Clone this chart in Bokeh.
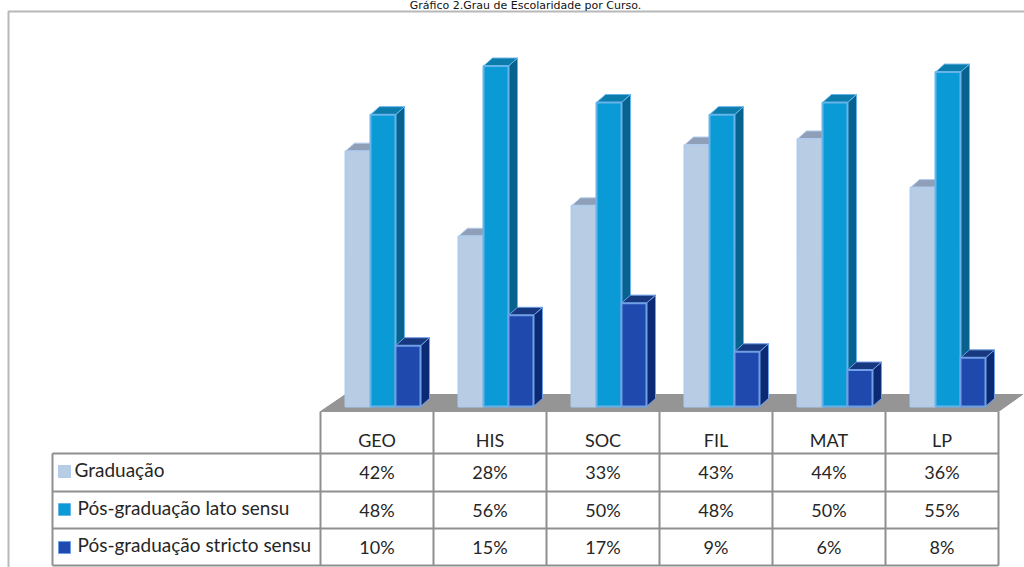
from bokeh.plotting import figure
from bokeh.embed import file_html
from bokeh.resources import INLINE
from bokeh.models import ColumnDataSource
from bokeh.core.properties import value

title = "Gráfico 2.Grau de Escolaridade por Curso."
categories = ["GEO", "HIS", "SOC", "FIL", "MAT", "LP"]
series_names = ["Graduação", "Pós-graduação lato sensu", "Pós-graduação stricto sensu"]
graduacao = [42, 28, 33, 43, 44, 36]
lato_sensu = [48, 56, 50, 48, 50, 55]
stricto_sensu = [10, 15, 17, 9, 6, 8]
series = [graduacao, lato_sensu, stricto_sensu]

front = ["#b8cce4", "#0a9bd6", "#1f49ad"]
side = ["#8ea4c0", "#07628e", "#0c2a73"]
top = ["#8f9fb8", "#0b7cab", "#17377f"]
edge = ["#b0cbec", "#66b4ea", "#6f9fe6"]

W, H = 1024, 567
PX_X, PX_Y = 113.0, 6.08      # pixels per category, pixels per percent
X0, Y0 = 320.0, 406.0         # pixel position of first category's left edge and of 0 %

def dx(px):
    return (px - X0) / PX_X

def dy(py):
    return (Y0 - py) / PX_Y

p = figure(width=W, height=H, x_range=(dx(0), dx(W)), y_range=(dy(H), dy(0)),
           toolbar_location=None, output_backend="svg", min_border=0,
           outline_line_color=None, background_fill_color="white", border_fill_color="white")
p.axis.visible = False
p.grid.visible = False

GRID = "#8f8f8f"

# outer frame (open on the right and at the bottom)
p.line([dx(8), dx(8), dx(1024)], [dy(567), dy(11), dy(11)], line_color="#b8b8b8", line_width=2)

# floor
p.patch([dx(320), dx(345), dx(1022), dx(998)], [dy(411), dy(394), dy(394), dy(411)],
        fill_color="#959595", line_color="#959595")

# 3-D bars
bar_w = 25 / PX_X
off = 25 / PX_X
depth_x = 9 / PX_X
depth_y = 8 / PX_Y
for s, vals in enumerate(series):
    left = [i + off + s * bar_w for i in range(len(vals))]
    right = [l + bar_w for l in left]
    side_xs = [[r, r + depth_x, r + depth_x, r] for r in right]
    side_ys = [[0, depth_y, v + depth_y, v] for v in vals]
    top_xs = [[l, l + depth_x, r + depth_x, r] for l, r in zip(left, right)]
    top_ys = [[v, v + depth_y, v + depth_y, v] for v in vals]
    p.patches(side_xs, side_ys, fill_color=side[s], line_color=edge[s], line_width=1)
    p.patches(top_xs, top_ys, fill_color=top[s], line_color=edge[s], line_width=1)
    src = ColumnDataSource(dict(left=left, right=right, top=vals, bottom=[0] * len(vals)))
    p.quad(left="left", right="right", top="top", bottom="bottom", source=src,
           fill_color=front[s], line_color=edge[s], line_width=2)

# data table lines
row_y = [453, 491, 528, 565]
n = len(categories)
for py in row_y:
    p.line([dx(52), dx(998)], [dy(py), dy(py)], line_color=GRID, line_width=2)
p.line([dx(52), dx(52)], [dy(453), dy(565)], line_color=GRID, line_width=2)
for i in range(n + 1):
    p.line([i, i], [dy(411), dy(565)], line_color=GRID, line_width=2)

FONT = value("Lato")
TXT = "#262626"
p.text([i + 0.5 for i in range(n)], [dy(439)] * n, text=categories, text_font=FONT,
       text_font_size="18px", text_color=TXT, text_align="center", text_baseline="middle")

row_c = [471, 509, 546]
name_c = [469, 507, 544]
key_top = [465, 503, 541]
for s, vals in enumerate(series):
    p.text([i + 0.5 for i in range(n)], [dy(row_c[s])] * n, text=[f"{v}%" for v in vals],
           text_font=FONT, text_font_size="18px", text_color=TXT,
           text_align="center", text_baseline="middle")
    p.quad(left=[dx(58)], right=[dx(70)], top=[dy(key_top[s])], bottom=[dy(key_top[s] + 12)],
           fill_color=front[s], line_color=edge[s], line_width=1)
    p.text([dx(74 if s == 0 else 77)], [dy(name_c[s])], text=[series_names[s]], text_font=FONT,
           text_font_size="19px", text_color=TXT, text_align="left", text_baseline="middle")

# title: the reference crops it at the page top; here it is shrunk to fit above the frame
p.text([dx(525)], [dy(5)], text=[title], text_font=value("DejaVu Sans"), text_font_size="11px",
       text_color="#111111", text_align="center", text_baseline="middle")

open("out.html", "w").write(file_html(p, INLINE))
